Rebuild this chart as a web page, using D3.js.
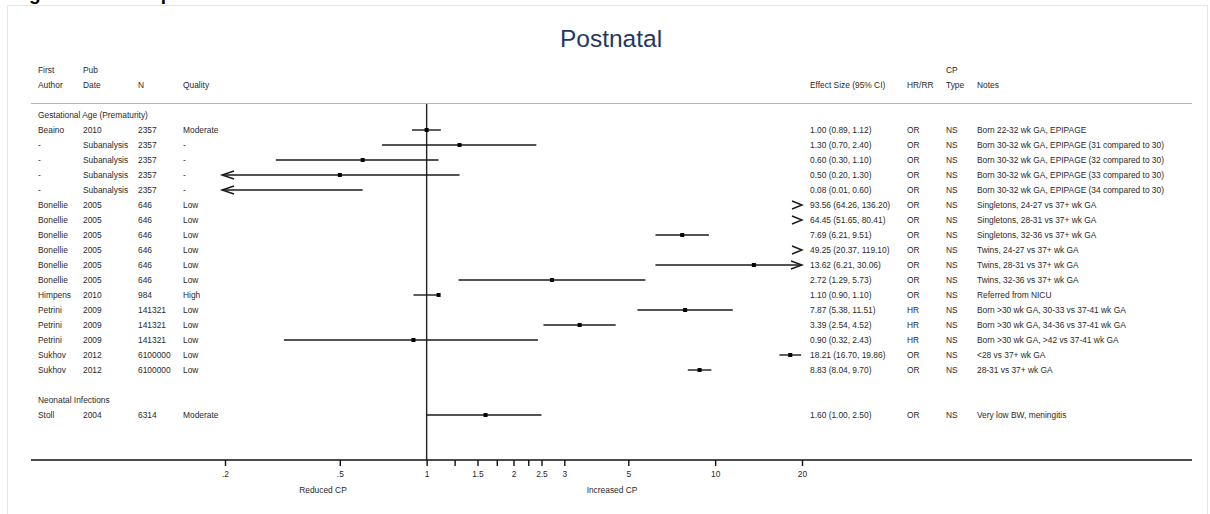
<!DOCTYPE html>
<html>
<head>
<meta charset="utf-8">
<script src="https://cdn.jsdelivr.net/npm/d3@7"></script>
<style>
  html, body { margin: 0; padding: 0; background: #fff; }
  svg { display: block; font-family: "Liberation Sans", Arial, sans-serif; }
</style>
</head>
<body>
<svg id="chart" width="1210" height="514"></svg>
<script>
// ---------------- DATA ----------------
const groupLabels = ["Gestational Age (Prematurity)", "Neonatal Infections"];
const groupOf   = [0,0,0,0,0,0,0,0,0,0,0,0,0,0,0,0,0,1];
const authors   = ["Beaino","-","-","-","-","Bonellie","Bonellie","Bonellie","Bonellie","Bonellie","Bonellie","Himpens","Petrini","Petrini","Petrini","Sukhov","Sukhov","Stoll"];
const pubDates  = ["2010","Subanalysis","Subanalysis","Subanalysis","Subanalysis","2005","2005","2005","2005","2005","2005","2010","2009","2009","2009","2012","2012","2004"];
const sampleN   = ["2357","2357","2357","2357","2357","646","646","646","646","646","646","984","141321","141321","141321","6100000","6100000","6314"];
const quality   = ["Moderate","-","-","-","-","Low","Low","Low","Low","Low","Low","High","Low","Low","Low","Low","Low","Moderate"];
const estimate  = [1.00,1.30,0.60,0.50,0.08,93.56,64.45,7.69,49.25,13.62,2.72,1.10,7.87,3.39,0.90,18.21,8.83,1.60];
const lowerCI   = [0.89,0.70,0.30,0.20,0.01,64.26,51.65,6.21,20.37,6.21,1.29,0.90,5.38,2.54,0.32,16.70,8.04,1.00];
const upperCI   = [1.12,2.40,1.10,1.30,0.60,136.20,80.41,9.51,119.10,30.06,5.73,1.10,11.51,4.52,2.43,19.86,9.70,2.50];
const measure   = ["OR","OR","OR","OR","OR","OR","OR","OR","OR","OR","OR","OR","HR","HR","HR","OR","OR","OR"];
const cpType    = ["NS","NS","NS","NS","NS","NS","NS","NS","NS","NS","NS","NS","NS","NS","NS","NS","NS","NS"];
const notes     = ["Born 22-32 wk GA, EPIPAGE",
  "Born 30-32 wk GA, EPIPAGE (31 compared to 30)",
  "Born 30-32 wk GA, EPIPAGE (32 compared to 30)",
  "Born 30-32 wk GA, EPIPAGE (33 compared to 30)",
  "Born 30-32 wk GA, EPIPAGE (34 compared to 30)",
  "Singletons, 24-27 vs 37+ wk GA",
  "Singletons, 28-31 vs 37+ wk GA",
  "Singletons, 32-36 vs 37+ wk GA",
  "Twins, 24-27 vs 37+ wk GA",
  "Twins, 28-31 vs 37+ wk GA",
  "Twins, 32-36 vs 37+ wk GA",
  "Referred from NICU",
  "Born >30 wk GA, 30-33 vs 37-41 wk GA",
  "Born >30 wk GA, 34-36 vs 37-41 wk GA",
  "Born >30 wk GA, >42 vs 37-41 wk GA",
  "<28 vs 37+ wk GA",
  "28-31 vs 37+ wk GA",
  "Very low BW, meningitis"];
const tickValues = [0.2,0.5,1,1.25,1.5,1.75,2,2.25,2.5,3,5,10,20];
const tickLabels = [".2",".5","1","","1.5","","2","","2.5","3","5","10","20"];
const headerRow1 = {first:"First", pub:"Pub", cp:"CP"};
const headerRow2 = {author:"Author", date:"Date", n:"N", quality:"Quality", es:"Effect Size (95% CI)", hr:"HR/RR", type:"Type", notes:"Notes"};
const xMin = 0.2, xMax = 20;

// ---------------- LAYOUT ----------------
const svg = d3.select("#chart");
const textColor = "#2a2a2a";
const fs = 8.4;
const col = {author:38, date:83, n:138, quality:183, es:810, hr:907, type:946, notes:977};

// page-title fragment clipped at top (only descenders visible, as in the reference)
svg.append("text").attr("x", 12).attr("y", 0.3)
  .attr("font-size", 19).attr("font-weight", "bold").attr("fill", "#000")
  .text("Figure 3: Forest plot");

// panel
svg.append("rect").attr("x", 7.5).attr("y", 5.5).attr("width", 1200).attr("height", 520)
  .attr("fill", "#fff").attr("stroke", "#e3e8ef").attr("stroke-width", 1);

// title
svg.append("text").attr("x", 611).attr("y", 47).attr("text-anchor", "middle")
  .attr("font-size", 24.5).attr("fill", "#1f3864").text("Postnatal");

// rows: build display rows
const rows = [];
let gPrev = -1;
estimate.forEach((e, i) => {
  if (groupOf[i] !== gPrev) {
    if (gPrev !== -1) rows.push({type:"blank"});
    rows.push({type:"group", label: groupLabels[groupOf[i]]});
    gPrev = groupOf[i];
  }
  rows.push({type:"study", i});
});

const y = d3.scaleLinear().domain([0, rows.length - 1]).range([115, 115 + 15 * (rows.length - 1)]);
const x = d3.scaleLog().domain([xMin, xMax]).range([225, 802]);

const T = (xx, yy, s, anchor) => svg.append("text").attr("x", xx).attr("y", yy)
  .attr("font-size", fs).attr("fill", textColor).attr("text-anchor", anchor || "start").text(s);

// headers
T(col.author, 73, headerRow1.first);
T(col.date, 73, headerRow1.pub);
T(col.type, 73, headerRow1.cp);
T(col.author, 88, headerRow2.author);
T(col.date, 88, headerRow2.date);
T(col.n, 88, headerRow2.n);
T(col.quality, 88, headerRow2.quality);
T(col.es, 88, headerRow2.es);
T(col.hr, 88, headerRow2.hr);
T(col.type, 88, headerRow2.type);
T(col.notes, 88, headerRow2.notes);

svg.append("line").attr("x1", 31).attr("x2", 1192).attr("y1", 103.5).attr("y2", 103.5)
  .attr("stroke", "#b4b4b4").attr("stroke-width", 1);

// axis baseline
const axisY = 460;
// vertical reference line at 1
svg.append("line").attr("x1", x(1)).attr("x2", x(1)).attr("y1", 104).attr("y2", axisY)
  .attr("stroke", "#222").attr("stroke-width", 1.4);

// table text
rows.forEach((r, k) => {
  const yy = y(k) + 3;
  if (r.type === "group") {
    T(col.author, yy, r.label);
  } else if (r.type === "study") {
    const i = r.i;
    T(col.author, yy, authors[i]);
    T(col.date, yy, pubDates[i]);
    T(col.n, yy, sampleN[i]);
    T(col.quality, yy, quality[i]);
    T(col.es, yy, `${estimate[i].toFixed(2)} (${lowerCI[i].toFixed(2)}, ${upperCI[i].toFixed(2)})`);
    T(col.hr, yy, measure[i]);
    T(col.type, yy, cpType[i]);
    T(col.notes, yy, notes[i]);
  }
});

// CI lines, markers, arrows
const lineColor = "#1a1a1a";
const gMarks = svg.append("g");
rows.forEach((r, k) => {
  if (r.type !== "study") return;
  const i = r.i, yy = y(k);
  const lo = lowerCI[i], hi = upperCI[i], est = estimate[i];
  if (lo >= xMax) {
    // entirely off to the right: chevron only
    const tip = x(xMax);
    gMarks.append("path").attr("d", `M${tip-10},${yy-4}L${tip},${yy}L${tip-10},${yy+4}`)
      .attr("fill", "none").attr("stroke", lineColor).attr("stroke-width", 1.4);
    return;
  }
  const a = x(Math.max(lo, xMin)), b = x(Math.min(hi, xMax));
  gMarks.append("line").attr("x1", a).attr("x2", b).attr("y1", yy).attr("y2", yy)
    .attr("stroke", lineColor).attr("stroke-width", 1.4);
  if (lo <= xMin) {
    const tip = x(xMin) - 3;
    gMarks.append("line").attr("x1", tip).attr("x2", a).attr("y1", yy).attr("y2", yy)
      .attr("stroke", lineColor).attr("stroke-width", 1.4);
    gMarks.append("path").attr("d", `M${tip+12},${yy-4}L${tip},${yy}L${tip+12},${yy+4}`)
      .attr("fill", "none").attr("stroke", lineColor).attr("stroke-width", 1.4);
  }
  if (hi > xMax) {
    const tip = x(xMax);
    gMarks.append("path").attr("d", `M${tip-11},${yy-4}L${tip},${yy}L${tip-11},${yy+4}`)
      .attr("fill", "none").attr("stroke", lineColor).attr("stroke-width", 1.4);
  }
  if (est >= xMin && est <= xMax) {
    gMarks.append("rect").attr("x", x(est) - 2).attr("y", yy - 2).attr("width", 4).attr("height", 4)
      .attr("fill", "#000");
  }
});

// x axis
svg.append("line").attr("x1", 31).attr("x2", 1192).attr("y1", axisY).attr("y2", axisY)
  .attr("stroke", "#111").attr("stroke-width", 1.5);
const axis = d3.axisBottom(x).tickValues(tickValues)
  .tickFormat((d, idx) => tickLabels[idx]).tickSizeInner(6).tickSizeOuter(0).tickPadding(5);
const gAxis = svg.append("g").attr("transform", `translate(0,${axisY})`).call(axis);
gAxis.select(".domain").remove();
gAxis.selectAll(".tick line").attr("stroke", "#111").attr("stroke-width", 1.4);
gAxis.selectAll(".tick text").attr("font-size", fs).attr("fill", textColor)
  .attr("font-family", "Liberation Sans, Arial, sans-serif");

svg.append("text").attr("x", 323).attr("y", 493).attr("text-anchor", "middle")
  .attr("font-size", fs).attr("fill", textColor).text("Reduced CP");
svg.append("text").attr("x", 612).attr("y", 493).attr("text-anchor", "middle")
  .attr("font-size", fs).attr("fill", textColor).text("Increased CP");
</script>
</body>
</html>
